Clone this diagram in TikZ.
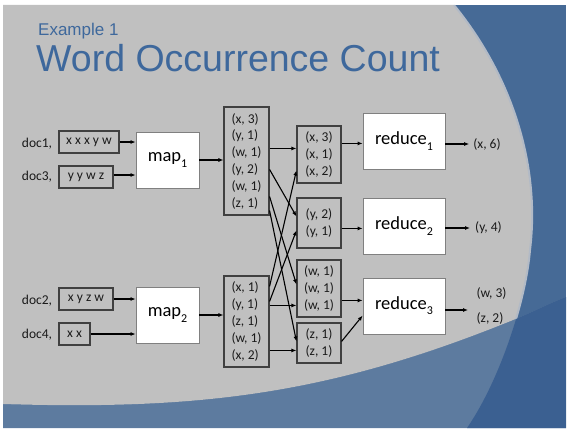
\documentclass[tikz,border=0pt]{standalone}
\usepackage{fontspec}
\setmainfont{Carlito}
\newfontfamily\titlefont{Liberation Sans}
\usetikzlibrary{arrows.meta,calc}
\definecolor{slidegray}{RGB}{192,192,192}
\definecolor{blueA}{RGB}{70,106,150}
\definecolor{blueLight}{RGB}{93,123,159}
\definecolor{blueDark}{RGB}{59,96,145}
\definecolor{titleblue}{RGB}{62,104,156}
\definecolor{boxline}{RGB}{64,64,64}
\definecolor{procline}{RGB}{128,128,128}
\definecolor{txt}{RGB}{26,26,26}
\newcommand\lowidx[1]{\raisebox{-0.28em}{\fontsize{12}{12}\selectfont #1}}

\begin{document}
\begin{tikzpicture}[x=1pt,y=-1pt,
  kv/.style={draw=boxline,line width=1.1pt,align=left,inner sep=0pt,
    minimum width=45pt,font=\fontsize{13.5}{16.8}\selectfont,text=txt},
  docbox/.style={draw=boxline,line width=1.1pt,inner sep=0pt,
    minimum height=22pt,font=\fontsize{13.5}{14}\selectfont,text=txt},
  doclbl/.style={inner sep=0pt,font=\fontsize{13.5}{14}\selectfont,text=txt},
  proc/.style={draw=procline,fill=white,line width=0.8pt,inner sep=0pt,
    minimum height=56pt,font=\fontsize{18.5}{20}\selectfont,text=black},
  outlbl/.style={inner sep=0pt,font=\fontsize{13.5}{14}\selectfont,text=txt},
  arr/.style={draw=black,line width=1.1pt,-{Latex[length=5pt,width=4pt]}}]

\useasboundingbox (0,0) rectangle (567,428);

% slide background
\fill[white] (0,0) rectangle (567,428);
\fill[blueA] (3,5) rectangle (566,428);
% lighter band along the bottom
\fill[blueLight] (3,404) .. controls (200,410) and (330,395) .. (518,318)
  .. controls (535,311) and (550,303) .. (566,297) -- (566,428) -- (3,428) -- cycle;
% darker corner where the arc meets the band
\begin{scope}
  \clip (3,404) .. controls (200,410) and (330,395) .. (518,318)
    .. controls (535,311) and (550,303) .. (566,297) -- (566,428) -- (3,428) -- cycle;
  \fill[blueDark] (454,5) .. controls (515,80) and (540,170) .. (530,250)
    .. controls (526,300) and (500,380) .. (467,428) -- (566,428) -- (566,5) -- cycle;
\end{scope}
% grey panel
\begin{scope}
  \clip (3,5) -- (566,5) -- (566,297) .. controls (550,303) and (535,311) .. (518,318)
    .. controls (330,395) and (200,410) .. (3,404) -- cycle;
  \fill[slidegray] (3,5) -- (454,5) .. controls (515,80) and (540,170) .. (530,250)
    .. controls (526,300) and (500,380) .. (467,428) -- (3,428) -- cycle;
  \draw[line width=2pt,color={rgb,255:red,178;green,186;blue,198}]
    (454,5) .. controls (515,80) and (540,170) .. (530,250)
    .. controls (526,300) and (500,380) .. (467,428);
\end{scope}

% title
\node[anchor=base west,inner sep=0pt,font=\titlefont\fontsize{17}{17}\selectfont,
  text=titleblue] (t1) at (38,36) {Example 1};
\node[anchor=base west,inner sep=0pt,font=\titlefont\fontsize{37.5}{38}\selectfont,
  text=titleblue] (t2) at (36,71) {Word Occurrence Count};

% input documents
\node[doclbl] (l1) at (37,144) {doc1,};
\node[docbox,minimum width=60pt] (d1) at (89,142) {x x x y w};
\node[doclbl] (l3) at (37,177) {doc3,};
\node[docbox,minimum width=54pt] (d3) at (86,177) {y y w z};
\node[doclbl] (l2) at (37,301) {doc2,};
\node[docbox,minimum width=54pt] (d2) at (86,299) {x y z w};
\node[doclbl] (l4) at (37,335) {doc4,};
\node[docbox,minimum width=31pt] (d4) at (74.5,334) {x x};

% map tasks
\node[proc,minimum width=63pt] (m1) at (167.5,160) {map\lowidx{1}};
\node[proc,minimum width=63pt] (m2) at (167.5,315) {map\lowidx{2}};

% map outputs
\node[kv,minimum height=108pt] (k1) at (246.5,161)
  {(x, 3)\\(y, 1)\\(w, 1)\\(y, 2)\\(w, 1)\\(z, 1)};
\node[kv,minimum height=91pt] (k2) at (246.5,321.5)
  {(x, 1)\\(y, 1)\\(z, 1)\\(w, 1)\\(x, 2)};

% grouped by key
\node[kv,minimum width=44pt,minimum height=57pt] (gx) at (319,154.5) {(x, 3)\\(x, 1)\\(x, 2)};
\node[kv,minimum width=44pt,minimum height=50pt] (gy) at (319,223) {(y, 2)\\(y, 1)};
\node[kv,minimum width=44pt,minimum height=57pt] (gw) at (319,288.5) {(w, 1)\\(w, 1)\\(w, 1)};
\node[kv,minimum width=44pt,minimum height=40pt] (gz) at (319,343) {(z, 1)\\(z, 1)};

% reduce tasks
\node[proc,minimum width=82pt] (r1) at (404,141) {reduce\lowidx{1}};
\node[proc,minimum width=82pt] (r2) at (404,226) {reduce\lowidx{2}};
\node[proc,minimum width=82pt] (r3) at (404,306) {reduce\lowidx{3}};

% results
\node[outlbl] (o1) at (487,144) {(x, 6)};
\node[outlbl] (o2) at (488.5,228) {(y, 4)};
\node[outlbl] (o3) at (491.5,293) {(w, 3)};
\node[outlbl] (o4) at (490,318) {(z, 2)};
\coordinate (r3out) at (468,310);

% connector end points on the list boxes
\path ($(k1.north east)+(0,42)$) coordinate (k1x)
      ($(k1.north east)+(0,63)$) coordinate (k1y)
      ($(k1.north east)+(0,90)$) coordinate (k1w)
      ($(k1.north east)+(0,104)$) coordinate (k1z)
      ($(k2.north east)+(0,11)$) coordinate (k2x)
      ($(k2.north east)+(0,26)$) coordinate (k2y)
      ($(k2.north east)+(0,30)$) coordinate (k2w)
      ($(k2.north east)+(0,75)$) coordinate (k2z)
      ($(gx.north west)+(0,45)$) coordinate (gxin)
      ($(gy.north west)+(0,19)$) coordinate (gyin1)
      ($(gy.north west)+(0,33)$) coordinate (gyin2)
      ($(gw.north west)+(0,25)$) coordinate (gwin)
      ($(gz.north west)+(0,19)$) coordinate (gzin)
      ($(gx.north east)+(0,18)$) coordinate (gxout)
      ($(gy.north east)+(0,31)$) coordinate (gyout)
      ($(gw.north east)+(0,41)$) coordinate (gwout)
      ($(gz.north east)+(0,19)$) coordinate (gzout)
      ($(r3.north west)+(0,38)$) coordinate (r3in);

% documents to maps
\draw[arr] (d1.east) -- (d1.east -| m1.west);
\draw[arr] ($(d3.east)+(0,-2)$) -- ($(d3.east -| m1.west)+(0,-2)$);
\draw[arr] (d2.east) -- (d2.east -| m2.west);
\draw[arr] (d4.east) -- (d4.east -| m2.west);
\draw[arr] (m1.east) -- (m1.east -| k1.west);
\draw[arr] (m2.east) -- (m2.east -| k2.west);

% shuffle
\draw[arr] (k1x) -- (k1x -| gx.west);
\draw[arr] (k1y) -- (gyin1);
\draw[arr] (k1w) -- (gwin);
\draw[arr] (k1z) -- (gzin);
\draw[arr] (k2x) -- (gxin);
\draw[arr] (k2y) -- (gyin2);
\draw[arr] (k2w) -- (k2w -| gw.west);
\draw[arr] (k2z) -- (k2z -| gz.west);

% groups to reducers
\draw[arr] (gxout) -- (gxout -| r1.west);
\draw[arr] (gyout) -- (gyout -| r2.west);
\draw[arr] (gwout) -- (gwout -| r3.west);
\draw[arr] (gzout) -- (r3in);

% reducer outputs
\draw[arr] (r1.east |- o1.west) -- ($(o1.west)+(-4,0)$);
\draw[arr] (r2.east |- o2.west) -- ($(o2.west)+(-5,0)$);
\draw[arr] (r3.east |- r3out) -- (r3out);
\end{tikzpicture}
\end{document}
